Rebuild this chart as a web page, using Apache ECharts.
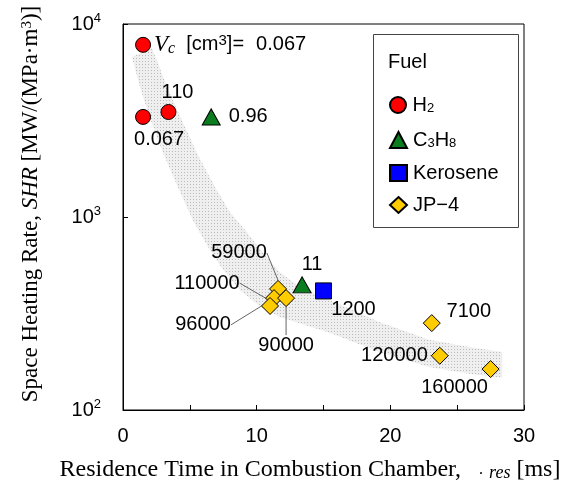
<!DOCTYPE html>
<html><head><meta charset="utf-8">
<script src="https://cdn.jsdelivr.net/npm/echarts@6/dist/echarts.min.js"></script>
<style>html,body{margin:0;padding:0;background:#fff}#c{width:570px;height:486px}</style>
</head><body><div id="c"></div>
<script>
// ---- data ----
const xTicks = [0, 10, 20, 30];
const yTicks = [100, 1000, 10000];
const seriesNames = ['H2', 'C3H8', 'Kerosene', 'JP-4'];
const h2X = [1.5, 1.5, 3.4];
const h2Y = [7800, 3300, 3500];
const h2Labels = ['0.067', '0.067', '110'];
const c3h8X = [6.6, 13.4];
const c3h8Y = [3300, 445];
const c3h8Labels = ['0.96', '11'];
const keroX = [15.0];
const keroY = [414];
const keroLabels = ['1200'];
const jpX = [11.6, 11.3, 11.0, 12.2, 23.1, 23.7, 27.5];
const jpY = [424, 380, 346, 380, 282, 191, 163];
const jpLabels = ['59000', '110000', '96000', '90000', '7100', '120000', '160000'];
const bandUpperX = [2.16, 2.76, 3.28, 4.40, 5.52, 6.87, 7.99, 9.25, 10.6, 11.72, 13.21, 15.45, 19.18, 22.91, 25.9, 28.36];
const bandUpperY = [7510, 5910, 4720, 3180, 2150, 1430, 1060, 836, 635, 519, 434, 371, 286, 231, 212, 200];
const bandLowerX = [0.67, 0.97, 1.27, 2.01, 2.99, 4.10, 5.22, 6.27, 7.39, 8.73, 10.22, 11.72, 15.45, 19.18, 22.91, 25.9, 28.36];
const bandLowerY = [6750, 5640, 4720, 3260, 2150, 1430, 965, 716, 544, 419, 346, 303, 251, 200, 167, 154, 147];

// ---- styling / layout ----
const SANS = '"Liberation Sans", Arial, sans-serif';
const SERIF = '"Liberation Serif", "Times New Roman", serif';
const FS = 20;
const labelSpecs = [
  [{pos: 'right', dist: 3}, {dx: 16, dy: 23}, {dx: 9, dy: -20}],
  [{pos: 'right', dist: 8}, {dx: 10, dy: -20}],
  [{dx: 30, dy: 19}],
  [{dx: -39, dy: -36, line: true}, {dx: -67, dy: -15, line: true}, {dx: -67, dy: 19, line: true},
   {dx: 0, dy: 47, line: true}, {dx: 37, dy: -12}, {pos: 'left', dist: 3}, {dx: -36, dy: 18}]
];
const symbols = ['circle', 'triangle', 'rect', 'diamond'];
const symbolSizes = [15, [18, 16], 16, 17];
const colors = ['#ff0000', '#0a7d1e', '#0000ff', '#ffcc00'];
const xs = [h2X, c3h8X, keroX, jpX], ys = [h2Y, c3h8Y, keroY, jpY], lbs = [h2Labels, c3h8Labels, keroLabels, jpLabels];

function makePattern() {
  const c = document.createElement('canvas');
  c.width = 3; c.height = 3;
  const g = c.getContext('2d');
  g.fillStyle = '#efefef'; g.fillRect(0, 0, 3, 3);
  g.fillStyle = '#bbbbbb'; g.fillRect(1, 1, 1, 1);
  return c;
}
const pat = {image: makePattern(), repeat: 'repeat'};

const richCommon = {
  vi: {fontFamily: SERIF, fontStyle: 'italic', fontSize: 23, color: '#000'},
  vs: {fontFamily: SERIF, fontStyle: 'italic', fontSize: 16, verticalAlign: 'bottom', color: '#000'},
  sup: {fontFamily: SANS, fontSize: 15, verticalAlign: 'top', color: '#000'},
  t: {fontFamily: SANS, fontSize: FS, color: '#000'},
  n: {fontFamily: SANS, fontSize: FS, color: '#000', padding: [0, 0, 0, 12]}
};

const scatterSeries = seriesNames.map((name, si) => ({
  type: 'scatter',
  name: name,
  symbol: symbols[si],
  symbolSize: symbolSizes[si],
  itemStyle: {color: colors[si], borderColor: '#000', borderWidth: 1, opacity: 1},
  z: 3,
  data: xs[si].map((x, i) => {
    const sp = labelSpecs[si][i];
    const txt = lbs[si][i];
    let fmt = '{t|' + txt + '}';
    if (si === 0 && i === 0) fmt = '{vi|V}{vs|c}{t|  [cm}{sup|3}{t|]=}{n|' + txt + '}';
    return {
      value: [x, ys[si][i]],
      label: {show: true, position: sp.pos || 'inside', distance: sp.dist || 0,
        formatter: fmt, rich: richCommon, color: '#000', fontFamily: SANS, fontSize: FS},
      labelLine: {show: !!sp.line, lineStyle: {color: '#666', width: 1}}
    };
  }),
  labelLayout: function (p) {
    const sp = labelSpecs[si][p.dataIndex];
    if (sp && sp.dx != null) return {dx: sp.dx, dy: sp.dy};
    return {};
  },
  labelLine: {lineStyle: {color: '#666', width: 1}}
}));

const bandSeries = {
  type: 'custom',
  name: 'band',
  silent: true,
  z: 1,
  clip: true,
  data: [[0, 0]],
  renderItem: function (params, api) {
    const pts = [];
    for (let i = 0; i < bandUpperX.length; i++) pts.push(api.coord([bandUpperX[i], bandUpperY[i]]));
    for (let i = bandLowerX.length - 1; i >= 0; i--) pts.push(api.coord([bandLowerX[i], bandLowerY[i]]));
    return {type: 'polygon', shape: {points: pts}, style: {fill: pat, stroke: null}};
  }
};

const legendRowsY = [102, 137, 170, 202];
const legendFmt = {
  'H2': 'H{sub|2}',
  'C3H8': 'C{sub|3}H{sub|8}',
  'Kerosene': 'Kerosene',
  'JP-4': 'JP\u22124'
};

const option = {
  animation: false,
  backgroundColor: '#fff',
  grid: {left: 123, right: 46, top: 24, bottom: 76, show: true, borderColor: '#000', borderWidth: 1},
  xAxis: {
    type: 'value', min: 0, max: 30, interval: 5,
    axisLine: {show: true, lineStyle: {color: '#000', width: 1}},
    axisTick: {show: true, inside: true, length: 5, lineStyle: {color: '#000'}},
    splitLine: {show: false},
    axisLabel: {color: '#000', fontFamily: SANS, fontSize: FS, margin: 16,
      formatter: v => (xTicks.indexOf(v) >= 0 ? String(v) : '')}
  },
  yAxis: {
    type: 'log', logBase: 10, min: 100, max: 10000,
    axisLine: {show: true, lineStyle: {color: '#000', width: 1}},
    axisTick: {show: true, inside: true, length: 5, lineStyle: {color: '#000'}},
    minorTick: {show: false},
    splitLine: {show: false},
    axisLabel: {margin: 22, formatter: v => (yTicks.indexOf(Math.round(v)) >= 0 ? '{b|10}{s|' + Math.round(Math.log10(v)) + '}' : ''),
      rich: {b: {fontFamily: SANS, fontSize: FS, color: '#000', lineHeight: 24},
             s: {fontFamily: SANS, fontSize: 13, color: '#000', verticalAlign: 'top'}}}
  },
  legend: seriesNames.map((n, i) => ({
    data: [n], left: 384, top: legendRowsY[i] - 12, orient: 'vertical',
    itemWidth: 17, itemHeight: 16, itemGap: 0, selectedMode: false,
    formatter: legendFmt[n],
    textStyle: {fontFamily: SANS, fontSize: FS, color: '#000', padding: [0, 0, 0, 1],
      rich: {sub: {fontFamily: SANS, fontSize: 13, verticalAlign: 'bottom', color: '#000'}}}
  })),
  graphic: [
    {type: 'rect', shape: {x: 373.5, y: 34.5, width: 145, height: 193}, style: {fill: null, stroke: '#444', lineWidth: 1}, z: 0},
    {type: 'text', left: 388, top: 52, style: {text: 'Fuel', font: '20px ' + SANS, fill: '#000'}},
    {type: 'text', x: 310, y: 470, style: {
      text: 'Residence Time in Combustion Chamber,   {d|.} {i|res} [ms]',
      fontFamily: SERIF, fontSize: 24, fill: '#000', align: 'center', verticalAlign: 'middle',
      rich: {d: {fontFamily: SERIF, fontSize: 16, fill: '#000'},
             i: {fontFamily: SERIF, fontStyle: 'italic', fontSize: 18, verticalAlign: 'bottom', fill: '#000'}}}},
    {type: 'text', x: 31, y: 204, rotation: Math.PI / 2, style: {
      text: 'Space Heating Rate, {i|SHR} [MW/(MPa\u00b7m{sup|3})]',
      fontFamily: SERIF, fontSize: 23, fill: '#000', align: 'center', verticalAlign: 'middle',
      rich: {i: {fontFamily: SERIF, fontStyle: 'italic', fontSize: 23, fill: '#000'},
             sup: {fontFamily: SERIF, fontSize: 15, verticalAlign: 'top', fill: '#000'}}}}
  ],
  series: [bandSeries].concat(scatterSeries)
};
const chart = echarts.init(document.getElementById('c'), null, {renderer: 'canvas'});
chart.setOption(option);
</script>
</body></html>
